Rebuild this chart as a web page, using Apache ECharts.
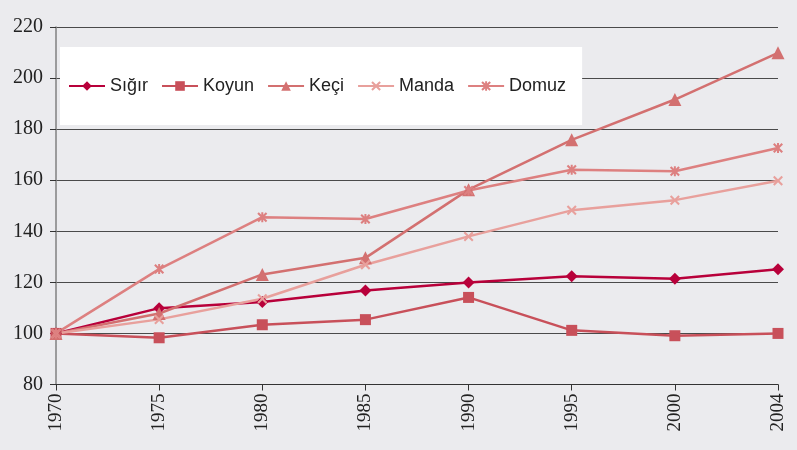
<!DOCTYPE html>
<html lang="tr">

<head>
    <meta charset="UTF-8">
    <title>Hayvan sayıları endeksi</title>
    <script src="https://cdn.jsdelivr.net/npm/echarts@6/dist/echarts.min.js"></script>
    <style>
        body { margin: 0; background: #ebebee; }
    </style>
</head>

<body>
    <div id="main" style="width: 797px;height:450px;"></div>

    <script>
        // x ekseni: yıllar
        var years = ['1970', '1975', '1980', '1985', '1990', '1995', '2000', '2004'];

        // seriler (1970 = 100)
        var sigir = [100, 109.9, 112.3, 116.8, 119.9, 122.4, 121.4, 125.1];
        var koyun = [100, 98.3, 103.4, 105.4, 114.1, 101.2, 99.1, 100];
        var keci = [100, 107.8, 123.1, 129.6, 156.3, 175.8, 191.6, 209.9];
        var manda = [100, 105.5, 113.6, 126.9, 138, 148.2, 152.2, 159.8];
        var domuz = [100, 125.2, 145.5, 144.8, 156, 164.1, 163.5, 172.6];

        var names = ['Sığır', 'Koyun', 'Keçi', 'Manda', 'Domuz'];
        var colors = ['#b8003a', '#c8505a', '#d37070', '#e8a09c', '#dd8080'];

        // özel işaretler: çarpı ve yıldız
        var xMark = 'path://M0,1.5L1.5,0L5,3.5L8.5,0L10,1.5L6.5,5L10,8.5L8.5,10L5,6.5L1.5,10L0,8.5L3.5,5Z';
        var starMark = 'path://M0,1.5L1.5,0L4,2.5L4,0L6,0L6,2.5L8.5,0L10,1.5L6.5,5L10,8.5L8.5,10L6,7.5L6,10L4,10L4,7.5L1.5,10L0,8.5L3.5,5Z';

        var myChart = echarts.init(document.getElementById('main'));

        function makeSeries(i, data, symbol, size) {
            return {
                name: names[i],
                type: 'line',
                data: data,
                symbol: symbol,
                symbolSize: size,
                lineStyle: { width: 2.5, color: colors[i] },
                itemStyle: { color: colors[i] },
                animation: false
            };
        }

        var option = {
            backgroundColor: '#ebebee',
            color: colors,
            legend: {
                data: names,
                left: 60,
                top: 47,
                padding: [30, 16, 30, 8],
                backgroundColor: '#ffffff',
                itemWidth: 36,
                itemHeight: 12,
                itemGap: 13,
                textStyle: {
                    fontFamily: 'Liberation Sans, Arial, sans-serif',
                    fontSize: 18,
                    color: '#222'
                }
            },
            grid: {
                left: 56,
                right: 19,
                top: 27,
                bottom: 65.5
            },
            xAxis: {
                type: 'category',
                boundaryGap: false,
                data: years,
                axisLine: { lineStyle: { color: '#333', width: 1 } },
                axisTick: { show: true, length: 6, lineStyle: { color: '#333' } },
                axisLabel: {
                    rotate: 90,
                    margin: 9,
                    fontFamily: 'Liberation Serif, Times New Roman, serif',
                    fontSize: 19,
                    color: '#222'
                }
            },
            yAxis: {
                type: 'value',
                min: 80,
                max: 220,
                interval: 20,
                axisLine: { show: true, lineStyle: { color: '#808080', width: 1.5 } },
                axisTick: { show: true, length: 6, lineStyle: { color: '#333' } },
                splitLine: { lineStyle: { color: '#4a4a4a', width: 1 } },
                axisLabel: {
                    margin: 13,
                    fontFamily: 'Liberation Serif, Times New Roman, serif',
                    fontSize: 20,
                    color: '#222'
                }
            },
            series: [
                makeSeries(0, sigir, 'diamond', 12),
                makeSeries(1, koyun, 'rect', 11),
                makeSeries(2, keci, 'triangle', 13),
                makeSeries(3, manda, xMark, 10),
                makeSeries(4, domuz, starMark, 10)
            ]
        };

        myChart.setOption(option);
    </script>
</body>

</html>
